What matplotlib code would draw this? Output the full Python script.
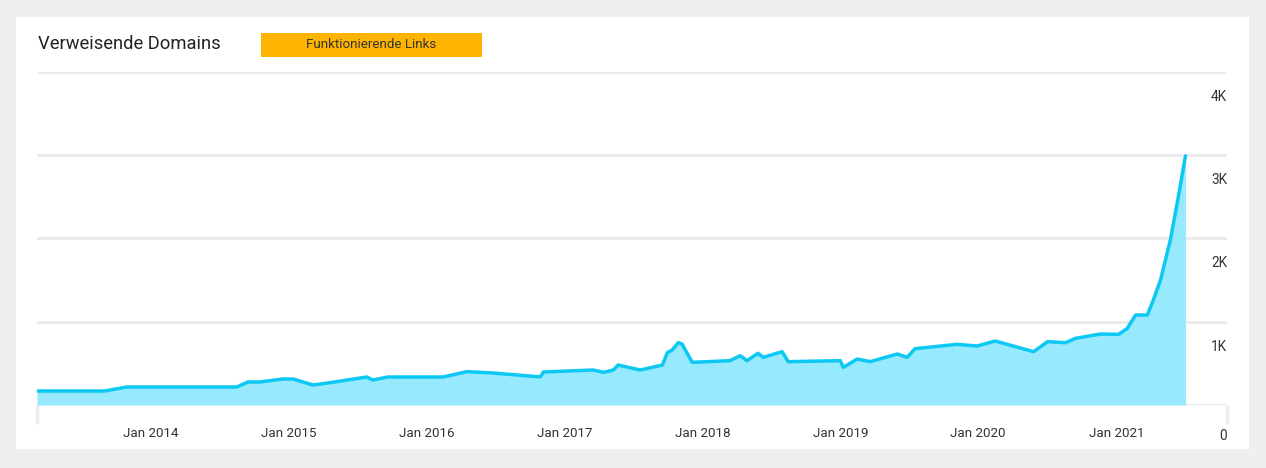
import matplotlib
matplotlib.use("Agg")
import matplotlib.pyplot as plt
import matplotlib.transforms as mtransforms
from matplotlib.patches import Rectangle
from matplotlib.lines import Line2D
import pandas as pd

# ---- data ----
dates = [
    "2013-03-06", "2013-09-01", "2013-10-30", "2014-08-17", "2014-09-15", "2014-10-17",
    "2014-12-17", "2015-01-13", "2015-03-07", "2015-04-21", "2015-07-27", "2015-08-12",
    "2015-09-21", "2016-02-14", "2016-04-17", "2016-06-26", "2016-10-21", "2016-10-29",
    "2016-11-06", "2017-03-18", "2017-04-14", "2017-05-10", "2017-05-23", "2017-07-20",
    "2017-09-17", "2017-09-30", "2017-10-13", "2017-10-29", "2017-11-08", "2017-12-05",
    "2018-03-15", "2018-04-11", "2018-04-29", "2018-05-28", "2018-06-11", "2018-07-31",
    "2018-08-16", "2019-01-01", "2019-01-09", "2019-02-15", "2019-03-21", "2019-06-01",
    "2019-06-27", "2019-07-18", "2019-11-06", "2019-12-29", "2020-02-15", "2020-05-27",
    "2020-07-03", "2020-08-20", "2020-09-15", "2020-11-20", "2021-01-07", "2021-01-30",
    "2021-02-21", "2021-03-24", "2021-04-09", "2021-04-28", "2021-05-24", "2021-06-15",
    "2021-07-03",
]
domains = [
    168, 168, 216, 216, 276, 276,
    312, 312, 240, 268, 336, 300,
    336, 336, 400, 384, 340, 340,
    396, 420, 392, 420, 480, 420,
    480, 628, 660, 748, 732, 512,
    532, 592, 532, 620, 572, 640,
    520, 532, 452, 552, 520, 612,
    572, 676, 728, 708, 768, 640,
    760, 748, 800, 852, 848, 920,
    1080, 1080, 1260, 1500, 1980, 2520,
    2990,
]
y_ticks = [0, 1000, 2000, 3000, 4000]
y_labels = ["0", "1K", "2K", "3K", "4K"]
x_tick_years = [2014, 2015, 2016, 2017, 2018, 2019, 2020, 2021]
x_tick_labels = ["Jan %d" % y for y in x_tick_years]
title = "Verweisende Domains"
legend_label = "Funktionierende Links"

# ---- figure ----
W, H = 1266, 468
fig = plt.figure(figsize=(W / 100, H / 100), dpi=100)
fig.patch.set_facecolor("#efeef1")

def fx(px):
    return px / W

def fy(py):
    return 1 - py / H

# white panel
fig.patches.append(Rectangle((fx(16), fy(449)), fx(1249) - fx(16), fy(17) - fy(449),
                             transform=fig.transFigure, facecolor="white",
                             edgecolor="none", zorder=0))

font = "Roboto"
fig.text(fx(38), fy(44), title, fontsize=13.2, color="#222222", family=font,
         va="center", ha="left", zorder=2)
fig.patches.append(Rectangle((fx(261), fy(57)), fx(482) - fx(261), fy(33) - fy(57),
                             transform=fig.transFigure, facecolor="#ffb400",
                             edgecolor="none", zorder=1))
fig.text(fx(371.5), fy(45), legend_label, fontsize=9.6, color="#333333", family=font,
         va="center", ha="center", zorder=2)

ax = fig.add_axes([fx(37), fy(405), fx(1227) - fx(37), fy(71.7) - fy(405)])
ax.set_zorder(1)
ax.set_facecolor("none")

x = pd.to_datetime(dates)
ax.fill_between(x, domains, 0, color="#97eafd", linewidth=0, zorder=2)
ax.plot(x, domains, color="#0cc8f3", linewidth=2.5, solid_joinstyle="round",
        solid_capstyle="round", zorder=3)

ax.set_xlim(pd.Timestamp("2013-03-06"), pd.Timestamp("2021-10-21"))
ax.set_ylim(0, 4000)

for v in y_ticks:
    if v == 0:
        ax.axhline(v, color="#ebebee", linewidth=2.5, zorder=1)
    else:
        ax.axhline(v, color="#ececef", linewidth=2.2, zorder=1)

for s in ax.spines.values():
    s.set_visible(False)

ax.set_xticks([pd.Timestamp("%d-01-01" % y) for y in x_tick_years])
ax.set_xticklabels(x_tick_labels)
ax.tick_params(axis="x", length=0, pad=15.5, labelsize=9.6, labelcolor="#333333")
for lbl in ax.get_xticklabels():
    lbl.set_family(font)
ax.set_yticks([])

trans = mtransforms.offset_copy(ax.get_yaxis_transform(), fig=fig, x=0, y=-18, units="dots")
for v, lab in zip(y_ticks, y_labels):
    off = -6 if v == 0 else 0
    t2 = mtransforms.offset_copy(trans, fig=fig, x=0, y=off, units="dots")
    ax.text(1.0, v, lab, transform=t2, ha="right", va="top", fontsize=9.8,
            color="#333333", family=font)

# small end ticks below the baseline
for xx in (0.0, 1.0):
    ax.add_line(Line2D([xx, xx], [-0.006, -0.05], transform=ax.transAxes,
                       color="#ececef", linewidth=2.5, clip_on=False))

fig.savefig("out.png", dpi=100, facecolor=fig.get_facecolor())
